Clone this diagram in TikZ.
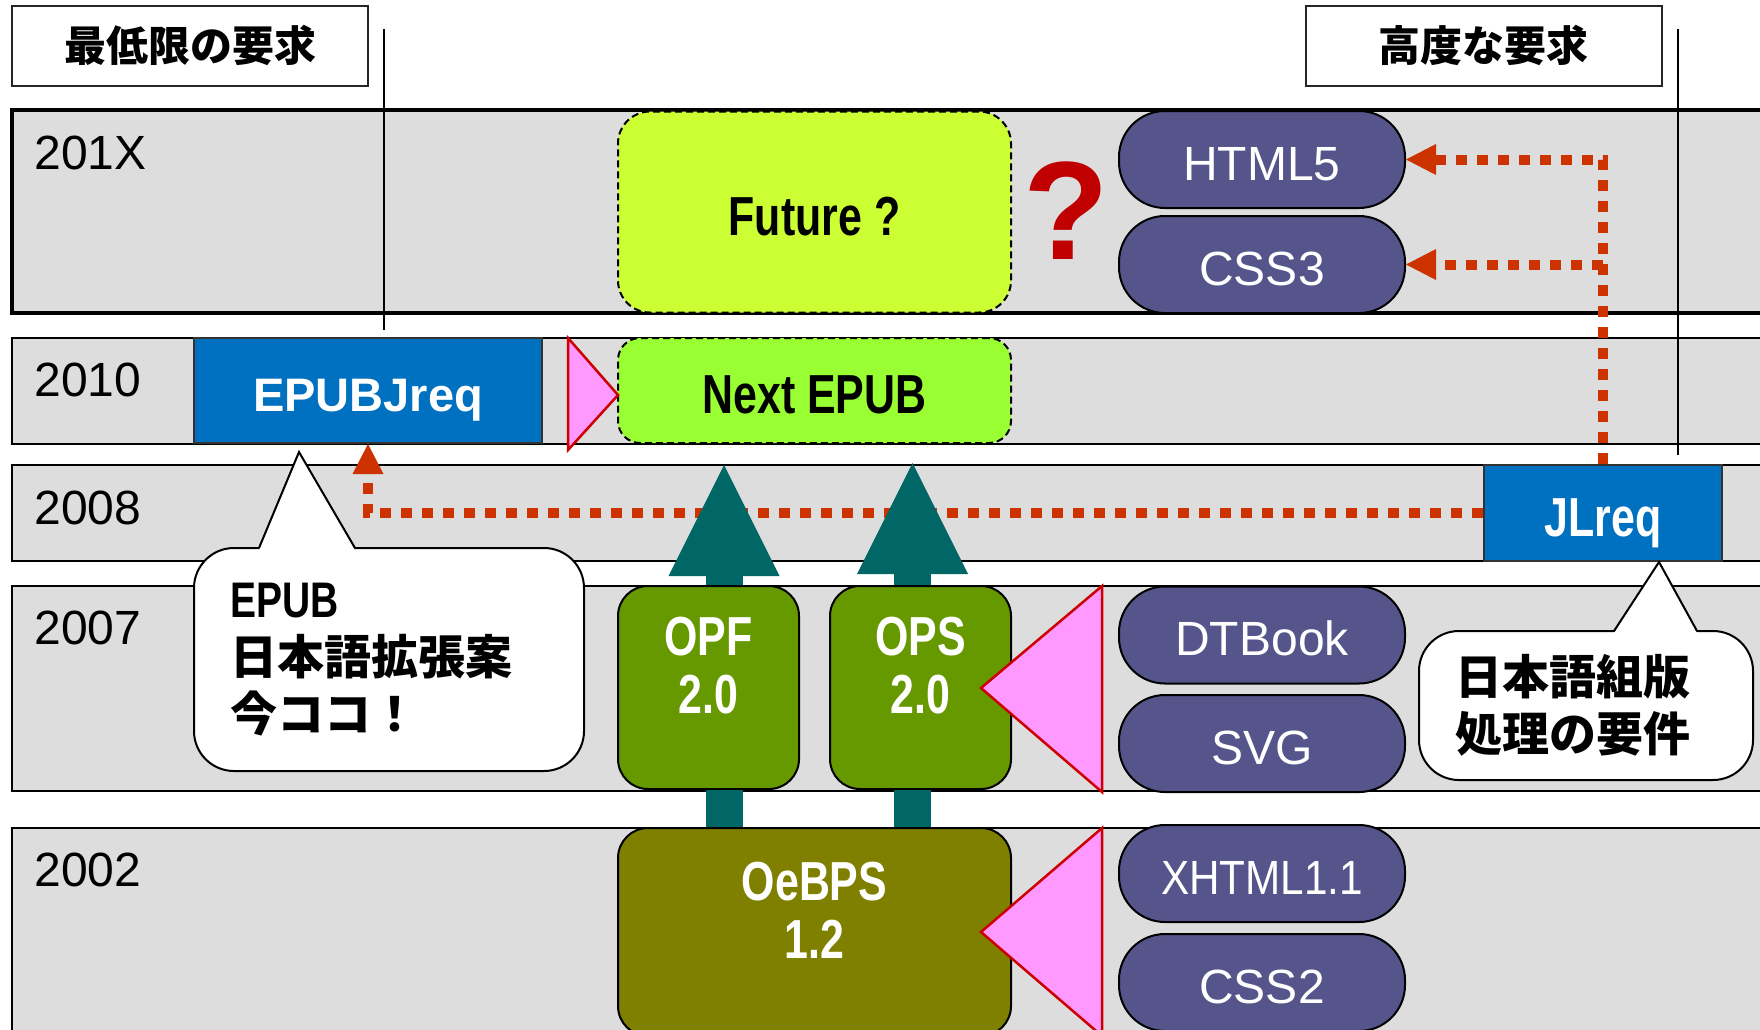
\documentclass[tikz,border=0pt]{standalone}
\usepackage{fontspec}
\setmainfont{Liberation Sans}
\newfontfamily\condfont[FakeStretch=0.78]{Liberation Sans}
\newfontfamily\narrowfont[FakeStretch=0.88]{Liberation Sans}
\newfontfamily\jpfont{Noto Sans CJK JP}
\usetikzlibrary{arrows.meta, positioning, calc}

\definecolor{bandgray}{HTML}{DDDDDD}
\definecolor{pillblue}{HTML}{55558B}
\definecolor{reqblue}{HTML}{0070C0}
\definecolor{futuregreen}{HTML}{CCFF33}
\definecolor{nextgreen}{HTML}{99FF33}
\definecolor{specgreen}{HTML}{669900}
\definecolor{oldolive}{HTML}{808000}
\definecolor{trianglepink}{HTML}{FF99FF}
\definecolor{edgered}{HTML}{CC0000}
\definecolor{linkorange}{HTML}{CC3300}
\definecolor{arrowteal}{HTML}{006666}
\definecolor{qred}{HTML}{C00000}

\tikzset{
    band/.style={fill=bandgray, draw=black, line width=2pt},
    year/.style={anchor=base west, font=\fontsize{48}{52}\selectfont},
    header/.style={draw=black!85, line width=2pt, fill=white, minimum width=356pt, minimum height=80pt, font=\jpfont\bfseries\fontsize{42}{46}\selectfont},
    pill/.style={draw=black, line width=2pt, fill=pillblue, rounded corners=46pt, minimum width=286pt, minimum height=97pt, text=white, text height=41pt, text depth=0pt, font=\fontsize{48}{52}\selectfont},
    reqbox/.style={draw=black!80, line width=2pt, fill=reqblue, text=white, text depth=0pt},
    planbox/.style={draw=black, line width=2pt, dash pattern=on 7pt off 4pt, rounded corners=32pt, minimum width=393pt, text height=46pt, text depth=0pt, font=\condfont\bfseries\fontsize{55}{58}\selectfont},
    specbox/.style={draw=black, line width=2pt, rounded corners=30pt},
    spectext/.style={text=white, align=center, font=\condfont\bfseries\fontsize{55}{58}\selectfont},
    callout/.style={draw=black, line width=2pt, fill=white, rounded corners=40pt, align=left, inner xsep=36pt, font=\jpfont\bfseries\fontsize{47}{57}\selectfont},
    pinktri/.style={fill=trianglepink, draw=edgered, line width=2.5pt},
    dotlink/.style={draw=linkorange, line width=10pt, dash pattern=on 11pt off 10pt, -{Triangle[length=30pt, width=31pt, line width=0pt]}},
    uplink/.style={draw=arrowteal, line width=37pt, -{Triangle[length=111pt, width=111pt, line width=0pt]}},
    divider/.style={draw=black, line width=2pt}
}

\begin{document}
\begin{tikzpicture}[x=1pt, y=-1pt]
    \useasboundingbox (0,0) rectangle (1760,1029);
    \clip (0,0) rectangle (1760,1029);

    % year bands
    \draw[band, line width=4pt] (12,110) rectangle (1800,313);
    \draw[band] (12,338) rectangle (1800,444);
    \draw[band] (12,465) rectangle (1800,561);
    \draw[band] (12,586) rectangle (1800,791);
    \draw[band] (12,828) rectangle (1800,1100);

    \node[year] (y201X) at (31,169) {201X};
    \node[year] (y2010) at (31,396) {2010};
    \node[year] (y2008) at (31,524) {2008};
    \node[year] (y2007) at (31,644) {2007};
    \node[year] (y2002) at (31,886) {2002};

    % requirement headers
    \node[header] (minReq) at (190,45.5) {最低限の要求};
    \node[header] (highReq) at (1483.5,45.5) {高度な要求};
    \draw[divider] (384,29) -- (384,330);
    \draw[divider] (1678,29) -- (1678,455);

    % specifications
    \node[planbox, fill=futuregreen, minimum height=201pt] (future) at (814.5,212) {Future ?};
    \node[planbox, fill=nextgreen, minimum height=105pt, rounded corners=22pt] (nextEpub) at (814.5,390.5) {Next EPUB};
    \node[text=qred, anchor=base, font=\bfseries\fontsize{140}{140}\selectfont] (question) at (1066,259) {?};

    \node[specbox, fill=specgreen, minimum width=181pt, minimum height=203pt] (opf) at (708.5,687.5) {};
    \node[spectext] (opfLabel) at ([yshift=22pt]opf.center) {OPF\\2.0};
    \node[specbox, fill=specgreen, minimum width=181pt, minimum height=203pt] (ops) at (920.5,687.5) {};
    \node[spectext] (opsLabel) at ([yshift=22pt]ops.center) {OPS\\2.0};
    \node[specbox, fill=oldolive, minimum width=393pt, minimum height=208pt] (oebps) at (814.5,932) {};
    \node[spectext] (oebpsLabel) at ([yshift=22pt]oebps.center) {OeBPS\\1.2};

    \node[pill] (html5) at (1262,159.5) {HTML5};
    \node[pill] (css3) at (1262,264.5) {CSS3};
    \node[pill] (dtbook) at (1262,635) {DTBook};
    \node[pill] (svg) at (1262,743.5) {SVG};
    \node[pill, font=\narrowfont\fontsize{48}{52}\selectfont] (xhtml) at (1262,873.5) {XHTML1.1};
    \node[pill] (css2) at (1262,982.5) {CSS2};

    \node[reqbox, minimum width=348pt, minimum height=105pt, text height=41pt, font=\bfseries\fontsize{47}{50}\selectfont] (epubJreq) at (368,390.5) {EPUBJreq};
    \node[reqbox, minimum width=238pt, minimum height=96pt, text height=46pt, font=\condfont\bfseries\fontsize{55}{58}\selectfont] (jlreq) at (1603,513) {JLreq};

    % pink wedges
    \draw[pinktri] (568,338) -- (618,395) -- (568,450) -- cycle;
    \draw[pinktri] (1102,586) -- (981,688) -- (1102,792) -- cycle;
    \draw[pinktri] (1102,828) -- (981,932) -- (1102,1036) -- cycle;

    % callouts
    \node[callout, text width=318pt, minimum height=223pt] (noteEpub) at (389,659.5) {{\condfont\fontsize{50}{57}\selectfont EPUB}\\日本語拡張案\\今ココ！};
    \fill[white] (259,550) -- (299,452) -- (355,550) -- cycle;
    \draw[line width=2pt] (259,548) -- (299,452) -- (355,548);
    \node[callout, text width=262pt, minimum height=149pt] (noteJlreq) at (1586,705.5) {日本語組版\\処理の要件};
    \fill[white] (1614,633) -- (1659,562) -- (1697,633) -- cycle;
    \draw[line width=2pt] (1614,631) -- (1659,562) -- (1697,631);

    % dotted links
    \draw[dotlink] (jlreq.west) -| (epubJreq.south);
    \draw[dotlink] (jlreq.north) |- (html5.east);
    \draw[dotlink] (jlreq.north |- css3.east) -- (css3.east);

    % upward arrows
    \coordinate (opfTip) at (724,465);
    \coordinate (opsTip) at (912.5,463);
    \draw[uplink] (opf.north -| opfTip) -- (opfTip);
    \draw[uplink] (ops.north -| opsTip) -- (opsTip);
    \draw[draw=arrowteal, line width=37pt] (oebps.north -| opfTip) -- (opf.south -| opfTip);
    \draw[draw=arrowteal, line width=37pt] (oebps.north -| opsTip) -- (ops.south -| opsTip);
\end{tikzpicture}
\end{document}
